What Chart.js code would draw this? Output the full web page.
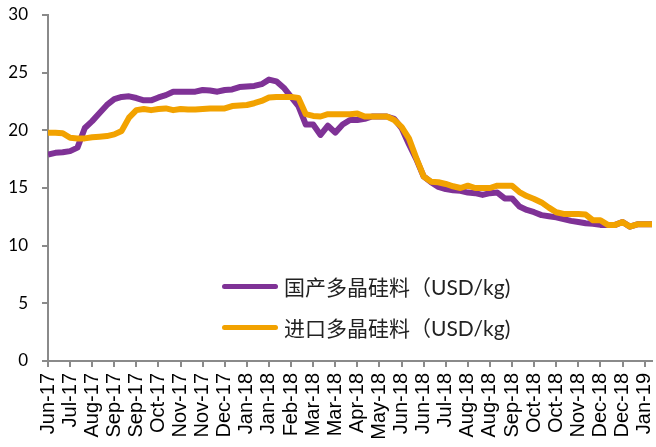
<!DOCTYPE html>
<html>
<head>
<meta charset="utf-8">
<script src="https://cdn.jsdelivr.net/npm/chart.js@4.4.1/dist/chart.umd.min.js"></script>
<style>
  body { margin: 0; background: #fff; }
  #wrap { position: relative; width: 656px; height: 447px; }
  .leg { position: absolute; left: 222px; height: 30px; display: flex; align-items: center;
         font: 21px Lato, "Noto Sans CJK SC", sans-serif; color: #222; white-space: nowrap; }
  .leg i { display: inline-block; width: 56px; height: 5px; border-radius: 3px; margin-right: 6px; }
</style>
</head>
<body>
<div id="wrap">
  <canvas id="grafico" width="656" height="447"></canvas>
  <div class="leg" style="top:271px"><i style="background:#7F3296"></i><span id="lbl0"></span></div>
  <div class="leg" style="top:312px"><i style="background:#F2A200"></i><span id="lbl1"></span></div>
</div>
<script>
const seriesNames = ['国产多晶硅料（USD/kg)', '进口多晶硅料（USD/kg)'];

// one label every 3 weekly points
const tickLabels = ['Jun-17', 'Jul-17', 'Aug-17', 'Sep-17', 'Sep-17', 'Oct-17', 'Nov-17',
  'Nov-17', 'Dec-17', 'Jan-18', 'Jan-18', 'Feb-18', 'Mar-18', 'Mar-18', 'Apr-18', 'May-18',
  'Jun-18', 'Jun-18', 'Jul-18', 'Aug-18', 'Aug-18', 'Sep-18', 'Oct-18', 'Oct-18', 'Nov-18',
  'Dec-18', 'Dec-18', 'Jan-19'];

const domestic = [17.9, 18.05, 18.1, 18.2, 18.5, 20.2, 20.8, 21.5, 22.2, 22.7,
  22.9, 22.95, 22.8, 22.6, 22.6, 22.85, 23.05, 23.35, 23.35, 23.35,
  23.35, 23.5, 23.45, 23.35, 23.5, 23.55, 23.75, 23.8, 23.85, 24.0,
  24.4, 24.25, 23.7, 22.9, 22.1, 20.5, 20.5, 19.6, 20.4, 19.8,
  20.5, 20.9, 20.9, 21.0, 21.2, 21.2, 21.2, 21.0, 20.2, 18.8,
  17.5, 16.0, 15.5, 15.1, 14.9, 14.8, 14.75, 14.6, 14.55, 14.4,
  14.55, 14.6, 14.1, 14.1, 13.4, 13.1, 12.9, 12.65, 12.55, 12.45,
  12.3, 12.15, 12.05, 11.95, 11.9, 11.8, 11.8, 11.8, 12.05, 11.65,
  11.85, 11.85, 11.85];

const imported = [19.8, 19.8, 19.75, 19.35, 19.3, 19.3, 19.4, 19.45, 19.5, 19.65,
  19.95, 21.1, 21.75, 21.85, 21.75, 21.85, 21.9, 21.75, 21.85, 21.8,
  21.8, 21.85, 21.9, 21.9, 21.9, 22.1, 22.15, 22.2, 22.35, 22.55,
  22.85, 22.9, 22.9, 22.9, 22.8, 21.4, 21.25, 21.2, 21.4, 21.4,
  21.4, 21.4, 21.45, 21.2, 21.2, 21.2, 21.2, 20.9, 20.3, 19.3,
  17.6, 16.0, 15.55, 15.5, 15.35, 15.15, 15.0, 15.2, 15.0, 15.0,
  15.0, 15.2, 15.2, 15.2, 14.65, 14.3, 14.05, 13.75, 13.3, 12.9,
  12.75, 12.75, 12.75, 12.7, 12.2, 12.2, 11.8, 11.8, 12.05, 11.65,
  11.85, 11.85, 11.85];

document.getElementById('lbl0').textContent = seriesNames[0];
document.getElementById('lbl1').textContent = seriesNames[1];

const toPoints = arr => arr.map((v, i) => ({ x: i, y: v }));
const axisGray = '#8a8a8a';

new Chart(document.getElementById('grafico'), {
  type: 'line',
  data: {
    datasets: [{
      label: seriesNames[0],
      data: toPoints(domestic),
      borderColor: '#7F3296',
      order: 2
    }, {
      label: seriesNames[1],
      data: toPoints(imported),
      borderColor: '#F2A200',
      order: 1
    }]
  },
  options: {
    responsive: false,
    animation: false,
    layout: { padding: { top: 15, right: 4, left: 0, bottom: 0 } },
    elements: {
      point: { radius: 0 },
      line: { borderWidth: 6, tension: 0, borderJoinStyle: 'round', borderCapStyle: 'butt' }
    },
    plugins: { legend: { display: false }, tooltip: { enabled: false } },
    scales: {
      x: {
        type: 'linear',
        min: 0,
        max: domestic.length - 1,
        afterFit: s => { s.height = 86; s.paddingLeft = 0; s.paddingRight = 0; },
        afterBuildTicks: s => { s.ticks = tickLabels.map((_, k) => ({ value: k * 3 })); },
        border: { color: axisGray, width: 2 },
        grid: { drawOnChartArea: false, color: axisGray, lineWidth: 2, tickLength: 6 },
        ticks: {
          autoSkip: false, minRotation: 90, maxRotation: 90, padding: 6,
          color: '#000', font: { family: '"Liberation Sans", Arial', size: 20 },
          callback: v => tickLabels[v / 3]
        }
      },
      y: {
        min: 0,
        max: 30,
        afterFit: s => { s.width = 48; s.paddingTop = 0; s.paddingBottom = 0; },
        border: { color: axisGray, width: 2 },
        grid: { drawOnChartArea: false, color: axisGray, lineWidth: 2, tickLength: 6 },
        ticks: {
          stepSize: 5, padding: 14, color: '#000',
          font: { family: 'Lato', size: 17 }
        }
      }
    }
  }
});
</script>
</body>
</html>
